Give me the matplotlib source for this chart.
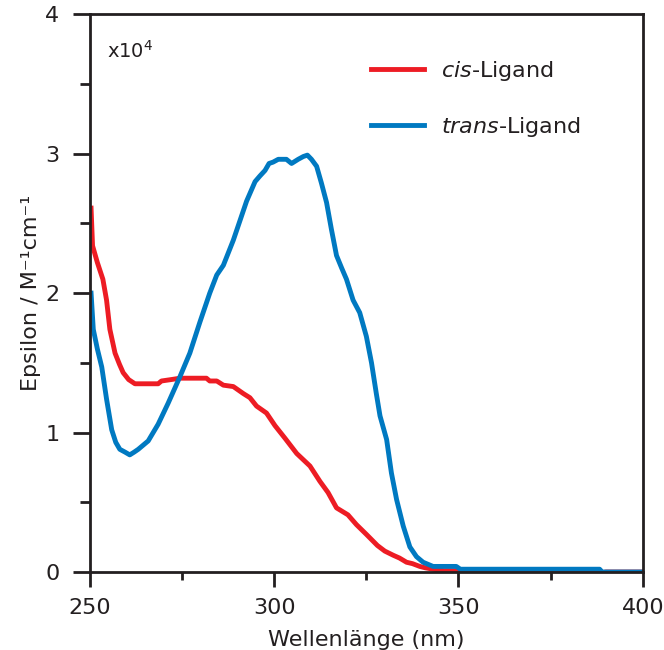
import matplotlib
matplotlib.use("Agg")
from matplotlib import pyplot as plt
from matplotlib.ticker import MultipleLocator

# Wellenlaenge (nm) und Epsilon (x10^4 M^-1 cm^-1)
cis_nm = [250.3, 250.7, 252, 253.5, 254.5, 255.4, 256.8, 258, 259, 260.5, 262.2, 265,
          268.5, 269.4, 272, 274.4, 278, 281.6, 282.5, 284.4, 286.2, 288.9, 291.6, 293.4,
          295.2, 297.9, 300.2, 302.9, 306.1, 309.7, 312.4, 314.6, 316.9, 320, 322.3, 325,
          328, 330, 332.3, 334, 335.9, 337.5, 339.5, 341, 343.1, 346, 350, 352.1, 355,
          370, 388, 390, 400]
cis_eps = [2.61, 2.34, 2.22, 2.10, 1.95, 1.74, 1.57, 1.49, 1.43, 1.38, 1.35, 1.35,
           1.35, 1.37, 1.38, 1.39, 1.39, 1.39, 1.37, 1.37, 1.34, 1.33, 1.28, 1.25,
           1.19, 1.14, 1.05, 0.96, 0.85, 0.76, 0.65, 0.57, 0.46, 0.41, 0.34, 0.27,
           0.19, 0.15, 0.12, 0.10, 0.07, 0.06, 0.04, 0.03, 0.02, 0.01, 0.01, 0.0, -0.01,
           -0.01, -0.01, 0.0, 0.0]

trans_nm = [250.3, 250.9, 252, 253.2, 254.5, 255.9, 257, 258.1, 259.5, 260.8, 262, 263.1,
            265.8, 268.5, 271.2, 274.4, 277.1, 279.8, 282.5, 284.4, 286.2, 288.9, 290.7,
            292.5, 294.8, 296.1, 297.5, 298.6, 299.7, 301.1, 303.3, 304.7, 306.5, 307.9,
            309, 310.1, 311.5, 312.8, 314.2, 315.5, 316.9, 318.3, 319.6, 321.4, 323.2, 325,
            326.4, 327.7, 328.7, 330.5, 331.8, 333.2, 335, 336.8, 338.6, 340.4, 343.1,
            349.4, 350.5, 388.3, 389, 400]
trans_eps = [2.0, 1.74, 1.6, 1.47, 1.24, 1.02, 0.93, 0.88, 0.86, 0.84, 0.86, 0.88,
             0.94, 1.06, 1.21, 1.40, 1.57, 1.79, 2.00, 2.13, 2.20, 2.38, 2.52,
             2.66, 2.80, 2.84, 2.88, 2.93, 2.94, 2.96, 2.96, 2.93, 2.96, 2.98,
             2.99, 2.96, 2.91, 2.79, 2.65, 2.46, 2.27, 2.18, 2.10, 1.95, 1.86, 1.69,
             1.50, 1.28, 1.12, 0.95, 0.71, 0.52, 0.33, 0.18, 0.11, 0.07, 0.04,
             0.04, 0.02, 0.02, 0.0, 0.0]

rot = '#ED1C24'
blau = '#0079C1'
dunkel = '#231F20'

fig = plt.figure(figsize=(6.64, 6.5), dpi=100)
ax = fig.add_axes([0.1355, 0.12, 0.8325, 0.858])

ax.plot(cis_nm, cis_eps, color=rot, lw=3.5, label=r'$\it{cis}$-Ligand', solid_joinstyle='round')
ax.plot(trans_nm, trans_eps, color=blau, lw=3.5, label=r'$\it{trans}$-Ligand', solid_joinstyle='round')

ax.set_xlim(250, 400)
ax.set_ylim(0, 4)
ax.xaxis.set_major_locator(MultipleLocator(50))
ax.xaxis.set_minor_locator(MultipleLocator(25))
ax.yaxis.set_major_locator(MultipleLocator(1))
ax.yaxis.set_minor_locator(MultipleLocator(0.5))

for s in ax.spines.values():
    s.set_linewidth(2.0)
    s.set_color(dunkel)

ax.tick_params(axis='y', which='major', length=12, width=2.0, pad=10, labelsize=16, colors=dunkel)
ax.tick_params(axis='y', which='minor', length=7, width=2.0, color=dunkel)
ax.tick_params(axis='x', which='major', length=11, width=2.0, pad=8, labelsize=16, colors=dunkel)
ax.tick_params(axis='x', which='minor', length=6, width=2.0, color=dunkel)

ax.set_xlabel('Wellenlänge (nm)', fontsize=16, color=dunkel, labelpad=8)
ax.set_ylabel('Epsilon / M⁻¹cm⁻¹', fontsize=16, color=dunkel, labelpad=3)

ax.text(0.03, 0.935, r'x10$^4$', transform=ax.transAxes, fontsize=14, color=dunkel, va='center')

leg = ax.legend(loc='upper left', bbox_to_anchor=(0.508, 0.92), frameon=False,
                fontsize=16, handlelength=2.4, handletextpad=0.75, labelspacing=1.45,
                borderpad=0, borderaxespad=0)
for t in leg.get_texts():
    t.set_color(dunkel)

fig.savefig('out.png', dpi=100)
